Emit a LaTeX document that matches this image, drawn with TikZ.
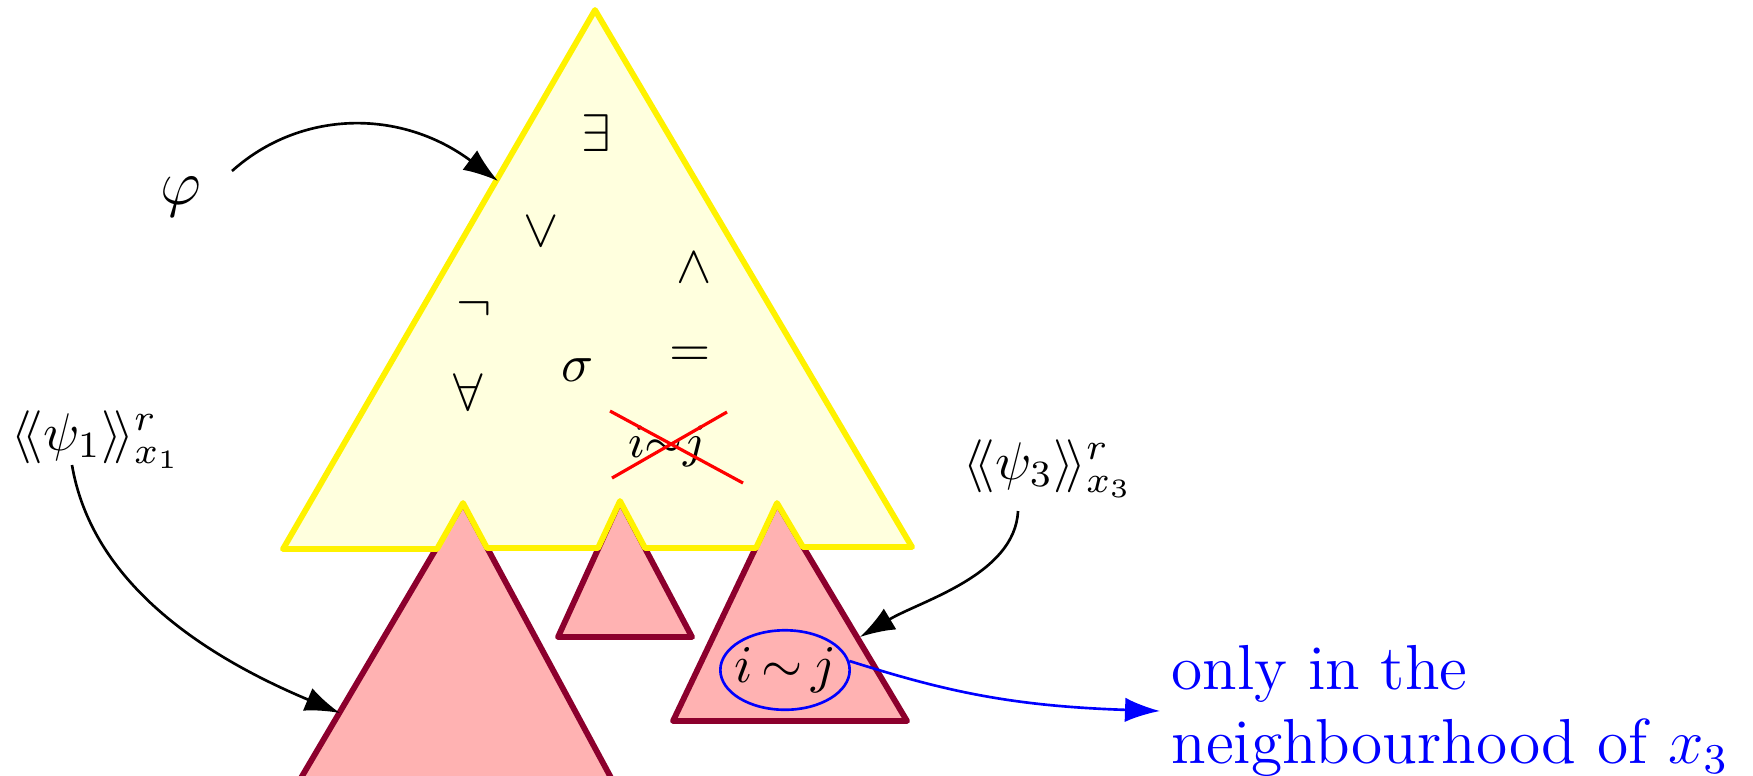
\documentclass[tikz,border=0pt]{standalone}
\usetikzlibrary{arrows.meta,shapes.geometric}
\definecolor{yfill}{RGB}{255,255,222}
\definecolor{pfill}{RGB}{255,178,178}
\definecolor{pline}{RGB}{140,0,45}
\begin{document}
\begin{tikzpicture}[x=0.18868pt, y=-0.18868pt,
  ytri/.style={draw=yellow, line width=1.1pt, fill=yfill, line join=round},
  ptri/.style={draw=pline, line width=1.1pt, fill=pfill, line join=round},
  sym/.style={inner sep=0pt},
  lbl/.style={inner sep=0pt},
  arr/.style={-{Latex[length=6.6pt,width=4.6pt]}, line width=0.5pt},
  barr/.style={arr, blue},
  cross/.style={red, line width=0.6pt}]
\useasboundingbox (0,0) rectangle (1753,775);
% pink subtrees
\begin{scope}
  \clip (0,0) rectangle (1753,775);
  \draw[ptri] (463,503) -- (288,800) -- (623,800) -- cycle;
\end{scope}
\draw[ptri] (620,501) -- (558,637) -- (692,637) -- cycle;
\draw[ptri] (777,503) -- (673,721) -- (907,721) -- cycle;
% yellow formula tree
\draw[ytri] (595,10) -- (912,547) -- (803,547) -- (777,503) -- (756,548)
  -- (645,548) -- (620,501) -- (598,548) -- (487,548) -- (463,503)
  -- (437,549) -- (283,549) -- cycle;
% symbols
\node[sym] (ex)  at (596,133) {$\exists$};
\node[sym] (or)  at (541,232) {$\vee$};
\node[sym] (and) at (694,268) {$\wedge$};
\node[sym] (neg) at (474,309) {$\neg$};
\node[sym] (all) at (468,392) {$\forall$};
\node[sym] (sig) at (578,370) {$\sigma$};
\node[sym] (eqs) at (690,357) {$=$};
\node[sym] (cr)  at (667,446) {\fontsize{9.5}{11}\selectfont$i{\sim}j$};
\coordinate (c1a) at (610,411); \coordinate (c1b) at (743,483);
\coordinate (c2a) at (612,478); \coordinate (c2b) at (727,412);
\draw[cross] (c1a) -- (c1b);
\draw[cross] (c2a) -- (c2b);
% labels
\node[lbl, font=\fontsize{12}{14}\selectfont] (phi) at (181,197) {$\varphi$};
\node[lbl, anchor=base west] (psi1) at (10,450) {$\langle\!\langle\psi_1\rangle\!\rangle^r_{x_1}$};
\node[lbl, anchor=base west] (psi3) at (962,479) {$\langle\!\langle\psi_3\rangle\!\rangle^r_{x_3}$};
% arrows
\coordinate (phiS) at (232,171);
\coordinate (phiT) at (498,181);
\draw[arr] (phiS) .. controls (300,110) and (400,108) .. (phiT);
\coordinate (p1S) at (72,465);
\coordinate (p1T) at (340,713);
\draw[arr] (p1S) .. controls (92,583) and (204,656) .. (p1T);
\coordinate (p3S) at (1018,511);
\coordinate (p3T) at (860,637);
\draw[arr] (p3S) .. controls (1015,575) and (920,601) .. (p3T);
% local condition
\node[ellipse, draw=blue, line width=0.5pt, minimum width=24.4pt, minimum height=15pt, inner sep=0pt] (eq) at (785,670) {\makebox[0pt]{$i\,{\sim}\,j$}};
\node[anchor=west, inner sep=2pt, text=blue, align=left, font=\fontsize{12}{14}\selectfont] (only) at (1160,711) {only in the\\neighbourhood of $x_3$};
\draw[barr] (eq.8) .. controls +(95,30) and +(-150,-5) .. (only.west);
\end{tikzpicture}
\end{document}
